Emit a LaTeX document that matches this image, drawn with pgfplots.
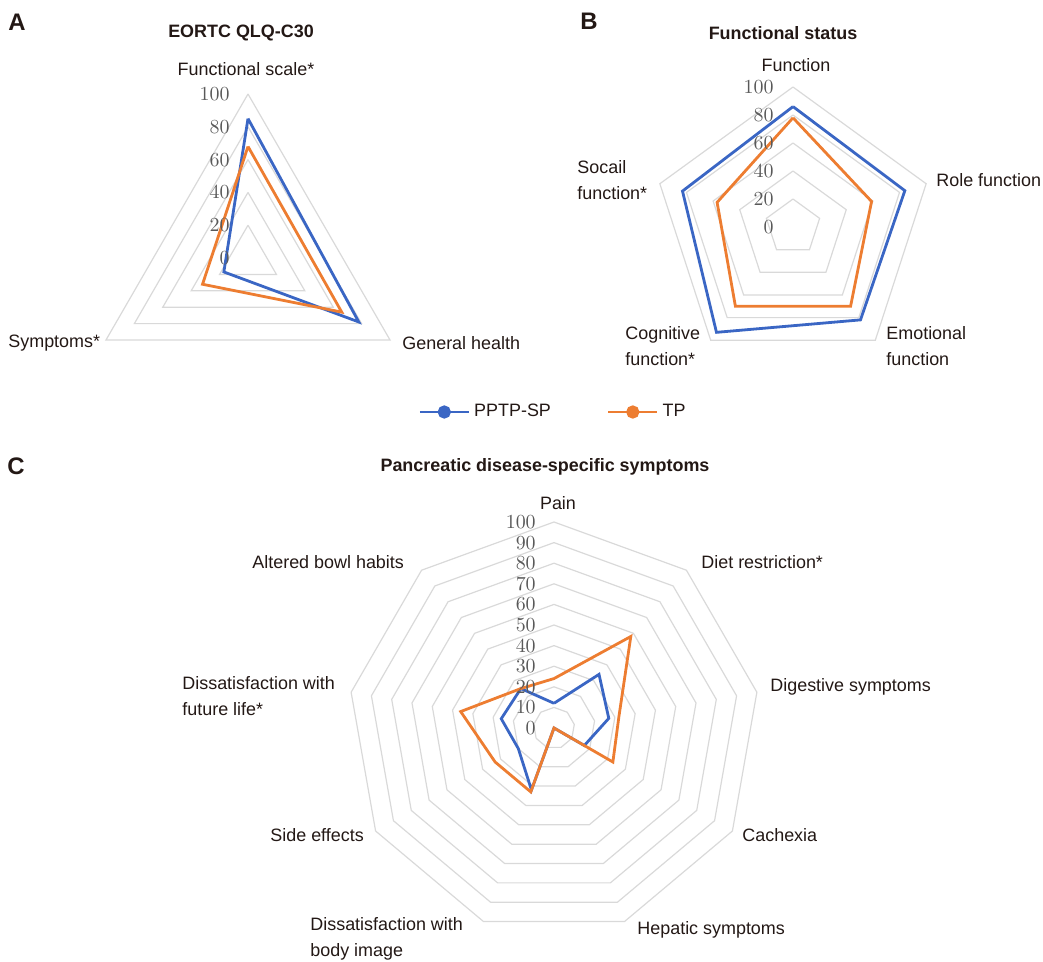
\documentclass[border=0pt]{standalone}
\usepackage{pgfplots}
\pgfplotsset{compat=1.18}
\usepackage{fontspec}
\setmainfont{Liberation Sans}

\definecolor{sblue}{HTML}{3A66C4}
\definecolor{sorange}{HTML}{ED7D31}
\definecolor{gridgray}{HTML}{D9D9D9}
\definecolor{txt}{HTML}{231815}
\definecolor{ticktxt}{HTML}{595959}

\newcommand\lbl{\fontsize{9}{13}\selectfont\color{txt}}
\newcommand\ttl{\fontsize{9}{11}\selectfont\bfseries\color{txt}}
\newcommand\pnl{\fontsize{12}{14}\selectfont\bfseries\color{txt}}
\newcommand\tck{\fontsize{10}{12}\selectfont\color{ticktxt}}

\pgfplotsset{
  radar/.style={
    scale only axis, hide axis, clip=false, anchor=origin,
    xmin=-100, xmax=100, ymin=-100, ymax=100,
  },
  gridln/.style={gridgray, line width=0.6bp, data cs=polar, no markers, forget plot},
  ser1/.style={sblue, line width=1.4bp, data cs=polar, no markers, forget plot},
  ser2/.style={sorange, line width=1.4bp, data cs=polar, no markers, forget plot},
}

\begin{document}
\begin{tikzpicture}
\path[use as bounding box] (0bp,0bp) rectangle (521.5bp,-481bp);

% A: EORTC QLQ-C30
\begin{axis}[radar, at={(124bp,-129bp)}, width=164bp, height=164bp]
  \pgfplotsinvokeforeach{20,40,60,80,100}{
    \addplot[gridln] coordinates {(90,#1) (210,#1) (330,#1) (90,#1)};
  }
  \addplot[ser1] coordinates {(90,85) (330,78) (210,17) (90,85)};
  \addplot[ser2] coordinates {(90,68) (330,66) (210,32) (90,68)};
  \pgfplotsinvokeforeach{0,20,40,60,80,100}{
    \node[anchor=east, font=\tck, inner sep=0pt] at (axis cs:-11,#1) {$#1$};
  }
\end{axis}

% B: Functional status
\begin{axis}[radar, at={(396.5bp,-113.5bp)}, width=140bp, height=140bp]
  \pgfplotsinvokeforeach{20,40,60,80,100}{
    \addplot[gridln] coordinates {(90,#1) (18,#1) (-54,#1) (-126,#1) (162,#1) (90,#1)};
  }
  \addplot[ser1] coordinates {(90,86) (18,84) (-54,82) (-126,93) (162,83) (90,86)};
  \addplot[ser2] coordinates {(90,78) (18,59) (-54,70) (-126,70) (162,57) (90,78)};
  \pgfplotsinvokeforeach{0,20,40,60,80,100}{
    \node[anchor=east, font=\tck, inner sep=0pt] at (axis cs:-13.6,#1) {$#1$};
  }
\end{axis}

% C: Pancreatic disease-specific symptoms
\begin{axis}[radar, at={(277bp,-364bp)}, width=206bp, height=206bp,
  legend columns=2,
  legend style={at={(0.5,1.267)}, anchor=center, draw=none, fill=none,
    font=\lbl, inner sep=0pt,
    /tikz/every even column/.append style={column sep=26bp}},
  legend image code/.code={
    \draw[mark repeat=2, mark phase=2, #1]
      plot coordinates {(0bp,0bp) (12.25bp,0bp) (24.5bp,0bp)};},
]
  \pgfplotsinvokeforeach{10,20,...,100}{
    \addplot[gridln] coordinates {(90,#1) (50,#1) (10,#1) (-30,#1) (-70,#1)
      (-110,#1) (-150,#1) (170,#1) (130,#1) (90,#1)};
  }
  \addplot[ser1] coordinates {(90,12) (50,34) (10,27) (-30,17) (-70,0)
    (-110,32) (-150,20) (170,26) (130,25) (90,12)};
  \addplot[ser2] coordinates {(90,24) (50,58) (10,32) (-30,33) (-70,0)
    (-110,33) (-150,33) (170,46) (130,25) (90,24)};
  \addlegendimage{sblue, line width=1.4bp, mark=*, mark size=2.6bp}
  \addlegendentry{PPTP-SP}
  \addlegendimage{sorange, line width=1.4bp, mark=*, mark size=2.6bp}
  \addlegendentry{TP}
  \pgfplotsinvokeforeach{0,10,...,100}{
    \node[anchor=east, font=\tck, inner sep=0pt] at (axis cs:-8.7,#1) {$#1$};
  }
\end{axis}

% panel letters and titles
\node[font=\pnl, inner sep=0pt] at (8.5bp,-11bp) {A};
\node[font=\pnl, inner sep=0pt] at (294.5bp,-10.5bp) {B};
\node[font=\pnl, inner sep=0pt] at (8bp,-233bp) {C};
\node[font=\ttl, inner sep=0pt] at (120.5bp,-16.5bp) {EORTC QLQ-C30};
\node[font=\ttl, inner sep=0pt] at (391.5bp,-16.5bp) {Functional status};
\node[font=\ttl, inner sep=0pt] at (272.5bp,-233.5bp) {Pancreatic disease-specific symptoms};

% category labels, A
\node[font=\lbl, inner sep=0pt] at (123bp,-34.5bp) {Functional scale*};
\node[font=\lbl, inner sep=0pt, anchor=west] at (4bp,-171.5bp) {Symptoms*};
\node[font=\lbl, inner sep=0pt, anchor=west] at (201bp,-171.5bp) {General health};

% category labels, B
\node[font=\lbl, inner sep=0pt] at (398bp,-32.5bp) {Function};
\node[font=\lbl, inner sep=0pt, anchor=west] at (468bp,-90bp) {Role function};
\node[font=\lbl, inner sep=0pt, anchor=west, align=left] at (288.5bp,-90bp) {Socail\\function*};
\node[font=\lbl, inner sep=0pt, anchor=west, align=left] at (312.5bp,-173.25bp) {Cognitive\\function*};
\node[font=\lbl, inner sep=0pt, anchor=west, align=left] at (443bp,-173.25bp) {Emotional\\function};

% category labels, C
\node[font=\lbl, inner sep=0pt] at (279bp,-251.5bp) {Pain};
\node[font=\lbl, inner sep=0pt, anchor=west] at (350.5bp,-281bp) {Diet restriction*};
\node[font=\lbl, inner sep=0pt, anchor=west] at (385bp,-343.5bp) {Digestive symptoms};
\node[font=\lbl, inner sep=0pt, anchor=west] at (371bp,-417.5bp) {Cachexia};
\node[font=\lbl, inner sep=0pt, anchor=west] at (318.5bp,-465bp) {Hepatic symptoms};
\node[font=\lbl, inner sep=0pt, anchor=west, align=left] at (155bp,-469.25bp) {Dissatisfaction with\\body image};
\node[font=\lbl, inner sep=0pt, anchor=west] at (135bp,-417.5bp) {Side effects};
\node[font=\lbl, inner sep=0pt, anchor=west, align=left] at (91bp,-348.25bp) {Dissatisfaction with\\future life*};
\node[font=\lbl, inner sep=0pt, anchor=west] at (126bp,-281bp) {Altered bowl habits};
\end{tikzpicture}
\end{document}
